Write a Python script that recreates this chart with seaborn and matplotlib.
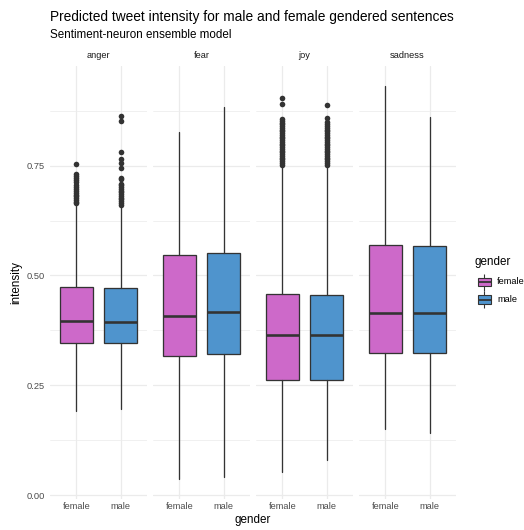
import matplotlib
matplotlib.use("Agg")
import matplotlib.pyplot as plt
from matplotlib.patches import Rectangle
import pandas as pd
import seaborn as sns

# ---- data -------------------------------------------------------------
emotions = ["anger", "fear", "joy", "sadness"]
genders = ["female", "male"]

# box summaries, one entry per emotion/gender (female first, then male)
whisker_low = [0.191, 0.196, 0.036, 0.042, 0.053, 0.079, 0.151, 0.142]
q1 = [0.346, 0.347, 0.317, 0.322, 0.263, 0.261, 0.323, 0.324]
median = [0.396, 0.395, 0.408, 0.416, 0.364, 0.364, 0.414, 0.414]
q3 = [0.474, 0.472, 0.547, 0.552, 0.458, 0.455, 0.570, 0.567]
whisker_high = [0.661, 0.657, 0.826, 0.883, 0.748, 0.748, 0.932, 0.861]

anger_female_out = [0.664, 0.668, 0.672, 0.676, 0.680, 0.684, 0.688, 0.692,
                    0.697, 0.702, 0.707, 0.712, 0.717, 0.722, 0.727, 0.730,
                    0.753]
anger_male_out = [0.661, 0.665, 0.669, 0.673, 0.677, 0.681, 0.685, 0.689,
                  0.693, 0.697, 0.701, 0.705, 0.709, 0.720, 0.723, 0.745,
                  0.756, 0.765, 0.780, 0.851, 0.864]
joy_female_out = [0.752, 0.756, 0.760, 0.764, 0.768, 0.772, 0.776, 0.780,
                  0.784, 0.788, 0.792, 0.796, 0.800, 0.804, 0.808, 0.812,
                  0.816, 0.820, 0.824, 0.828, 0.832, 0.836, 0.840, 0.844,
                  0.848, 0.852, 0.856, 0.890, 0.904]
joy_male_out = [0.752, 0.756, 0.760, 0.764, 0.768, 0.772, 0.776, 0.780,
                0.784, 0.788, 0.792, 0.796, 0.800, 0.804, 0.808, 0.812,
                0.816, 0.820, 0.824, 0.828, 0.832, 0.836, 0.840, 0.845,
                0.849, 0.858, 0.889]

outliers = {
    ("anger", "female"): anger_female_out,
    ("anger", "male"): anger_male_out,
    ("fear", "female"): [],
    ("fear", "male"): [],
    ("joy", "female"): joy_female_out,
    ("joy", "male"): joy_male_out,
    ("sadness", "female"): [],
    ("sadness", "male"): [],
}

fill_colors = {"female": "#CD69C9", "male": "#4F94CD"}

rows = [(e, g) for e in emotions for g in genders]
df = pd.DataFrame({
    "emotion": [r[0] for r in rows],
    "gender": [r[1] for r in rows],
    "low": whisker_low, "q1": q1, "med": median, "q3": q3, "high": whisker_high,
})

# ---- style ------------------------------------------------------------
sns.set_theme(style="whitegrid")
plt.rcParams["font.family"] = ["Liberation Sans", "DejaVu Sans"]

W, H = 524, 530
DPI = 72
EDGE = "#333333"
GRID = "#EBEBEB"
SMALL = 9.3
MID = 11.6
BIG = 13.8


def draw_boxes(data, **kwargs):
    ax = plt.gca()
    stats = []
    for _, row in data.iterrows():
        stats.append(dict(whislo=row["low"], q1=row["q1"], med=row["med"],
                          q3=row["q3"], whishi=row["high"],
                          fliers=outliers[(row["emotion"], row["gender"])],
                          label=row["gender"]))
    arts = ax.bxp(
        stats, positions=[1, 2], widths=0.75, patch_artist=True,
        showcaps=False, manage_ticks=False,
        boxprops=dict(edgecolor=EDGE, linewidth=1.3),
        medianprops=dict(color=EDGE, linewidth=2.6, solid_capstyle="butt"),
        whiskerprops=dict(color=EDGE, linewidth=1.3),
        flierprops=dict(marker="o", markerfacecolor=EDGE,
                        markeredgecolor="none", markersize=5.6),
    )
    for patch, gname in zip(arts["boxes"], data["gender"]):
        patch.set_facecolor(fill_colors[gname])


g = sns.FacetGrid(df, col="emotion", col_order=emotions, sharey=True,
                  height=4, aspect=0.4)
g.map_dataframe(draw_boxes)
g.set_titles("")
fig = g.figure
fig.set_size_inches(W / DPI, H / DPI)
fig.set_facecolor("white")

all_hi = max(whisker_high + [v for vals in outliers.values() for v in vals])
all_lo = min(whisker_low)
pad = 0.05 * (all_hi - all_lo)
ylim = (all_lo - pad, all_hi + pad)

panel_left, panel_w, panel_gap = 50, 97, 6
panel_top, panel_bottom = 66, 499

for i, (ax, emo) in enumerate(zip(g.axes.flat, emotions)):
    x0 = panel_left + i * (panel_w + panel_gap)
    ax.set_position([x0 / W, 1 - panel_bottom / H, panel_w / W,
                     (panel_bottom - panel_top) / H])
    ax.set_facecolor("white")
    for s in ax.spines.values():
        s.set_visible(False)
    ax.set_xlim(0.4, 2.6)
    ax.set_ylim(*ylim)
    ax.set_xticks([1, 2])
    ax.set_xticklabels(genders)
    ax.set_yticks([0, 0.25, 0.5, 0.75])
    ax.set_yticks([0.125, 0.375, 0.625, 0.875], minor=True)
    ax.set_yticklabels(["0.00", "0.25", "0.50", "0.75"])
    ax.tick_params(axis="both", which="both", length=0, labelsize=SMALL,
                   labelcolor="#4D4D4D")
    ax.tick_params(axis="x", pad=3)
    ax.tick_params(axis="y", pad=5)
    if i > 0:
        ax.tick_params(axis="y", labelleft=False)
    ax.grid(True, which="major", color=GRID, linewidth=1.3)
    ax.grid(True, which="minor", axis="y", color=GRID, linewidth=0.7)
    ax.set_axisbelow(True)
    ax.set_xlabel("")
    ax.set_ylabel("")
    fig.text((x0 + panel_w / 2) / W, 1 - 55 / H, emo, ha="center",
             va="center", fontsize=SMALL, color="#1A1A1A")

# titles and axis titles
fig.text(50 / W, 1 - 21 / H, "Predicted tweet intensity for male and female gendered sentences",
         ha="left", va="baseline", fontsize=BIG, color="black")
fig.text(50 / W, 1 - 37.5 / H, "Sentiment-neuron ensemble model",
         ha="left", va="baseline", fontsize=MID, color="black")
fig.text(253 / W, 1 - 520 / H, "gender", ha="center", va="center",
         fontsize=MID, color="black")
fig.text(16 / W, 1 - 282 / H, "intensity", ha="center", va="center",
         rotation=90, fontsize=MID, color="black")

# legend
lax = fig.add_axes([468 / W, 1 - 312 / H, 56 / W, 62 / H])
lax.set_xlim(468, 524)
lax.set_ylim(312, 250)
lax.axis("off")
lax.text(474, 265, "gender", ha="left", va="baseline", fontsize=MID,
         color="black")
for k, gname in enumerate(genders):
    yc = 282 + 17.5 * k
    lax.plot([484, 484], [yc - 8.5, yc + 8.5], color=EDGE, lw=1.1,
             solid_capstyle="butt")
    lax.add_patch(Rectangle((477.5, yc - 4.4), 13, 8.8,
                            facecolor=fill_colors[gname], edgecolor=EDGE,
                            lw=1.1, zorder=3))
    lax.plot([477.5, 490.5], [yc, yc], color=EDGE, lw=1.8, zorder=4,
             solid_capstyle="butt")
    lax.text(497, yc, gname, ha="left", va="center", fontsize=SMALL,
             color="black")

fig.savefig("out.png", dpi=DPI, facecolor="white")
